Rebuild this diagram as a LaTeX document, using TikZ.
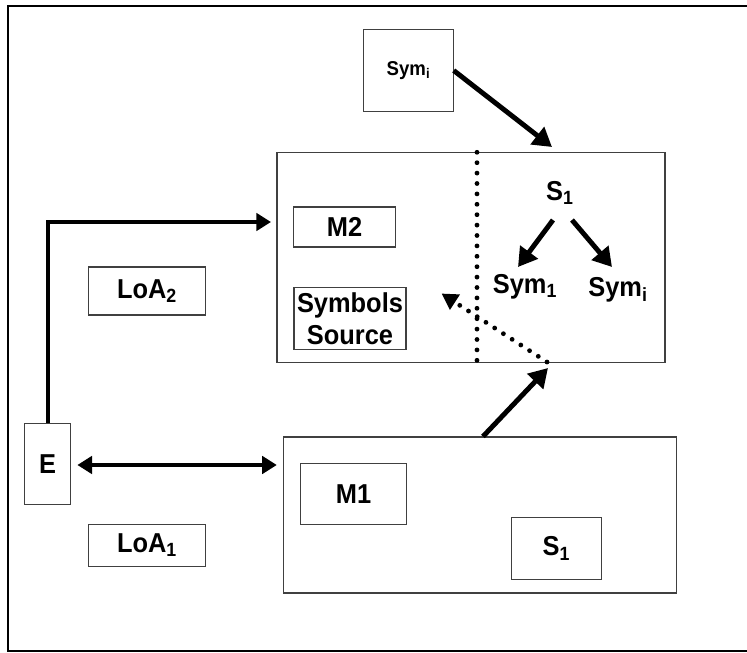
\documentclass[tikz,border=0pt]{standalone}
\usepackage{fontspec}
\setmainfont[FakeStretch=0.93]{Liberation Sans}
\usetikzlibrary{arrows.meta}

\begin{document}
\begin{tikzpicture}[x=0.75pt,y=-0.75pt,
	box/.style={draw=black!75,line width=0.8pt,inner sep=0pt,font=\fontsize{20.5}{22}\selectfont\bfseries},
	lbl/.style={inner sep=0pt,font=\fontsize{20.5}{22}\selectfont\bfseries},
	bigarrow/.style={line width=3.7pt,-{Triangle[length=14pt,width=16pt]}},
	midarrow/.style={line width=3pt,-{Triangle[length=11pt,width=13pt]}},
	dotline/.style={line width=3.6pt,line cap=round,dash pattern=on 0pt off 7.8pt}]
	
	\useasboundingbox (0,0) rectangle (747,653);
	% frame, right side lies outside the page
	\draw[line width=1.5pt] (747,651) -- (8,651) -- (8,6) -- (747,6);
	
	\node[box,minimum width=67pt,minimum height=61pt,font=\fontsize{15}{17}\selectfont\bfseries] (symtop) at (408.5,70.5) {Sym\textsubscript{i}};
	\node[box,minimum width=291pt,minimum height=157pt] (m2big) at (471,257.5) {};
	\node[box,minimum width=76pt,minimum height=30pt] (m2) at (344.5,227) {M2};
	\node[box,minimum width=84pt,minimum height=46pt,align=center] (src) at (350,318.5) {Symbols\\[2pt]Source};
	\node[lbl] (s1t) at (560,193) {S\textsubscript{1}};
	\node[lbl] (sym1) at (525,287) {Sym\textsubscript{1}};
	\node[lbl] (symi) at (618,290) {Sym\textsubscript{i}};
	
	\node[box,minimum width=295pt,minimum height=117pt] (m1big) at (480,515) {};
	\node[box,minimum width=80pt,minimum height=46pt] (m1) at (353.5,494) {M1};
	\node[box,minimum width=67pt,minimum height=46pt] (s1) at (556.5,548.5) {S\textsubscript{1}};
	
	\node[box,minimum width=35pt,minimum height=61pt] (e) at (47.5,464) {E};
	\node[box,minimum width=88pt,minimum height=36pt] (loa2) at (147,291) {LoA\textsubscript{2}};
	\node[box,minimum width=88pt,minimum height=31pt] (loa1) at (147,545.5) {LoA\textsubscript{1}};
	
	\coordinate (intop) at (552,147);
	\coordinate (inm2) at (271,222);
	\coordinate (inbot) at (548,368);
	\coordinate (dotend) at (547,362);
	
	\draw[bigarrow] (symtop.east) -- (intop);
	\draw[midarrow] (e.north) |- (inm2);
	\draw[midarrow,{Triangle[length=11pt,width=13pt]}-{Triangle[length=11pt,width=13pt]}] ([shift={(6,1)}]e.east) -- ([shift={(-6,1)}]e.east -| m1big.west);
	\draw[bigarrow] ([shift={(3,0)}]m1big.north) -- (inbot);
	
	\draw[bigarrow] ([shift={(-7,27)}]s1t.center) -- ([shift={(-7,-20)}]sym1.center);
	\draw[bigarrow] ([shift={(12,27)}]s1t.center) -- ([shift={(-6,-23)}]symi.center);
	
	\draw[dotline] ([shift={(6,0)}]m2big.north) -- ([shift={(6,0)}]m2big.south);
	\draw[dotline,-{Triangle[length=12pt,width=13pt]}] (dotend) -- ([shift={(35,-25)}]src.east);
	
\end{tikzpicture}
\end{document}
